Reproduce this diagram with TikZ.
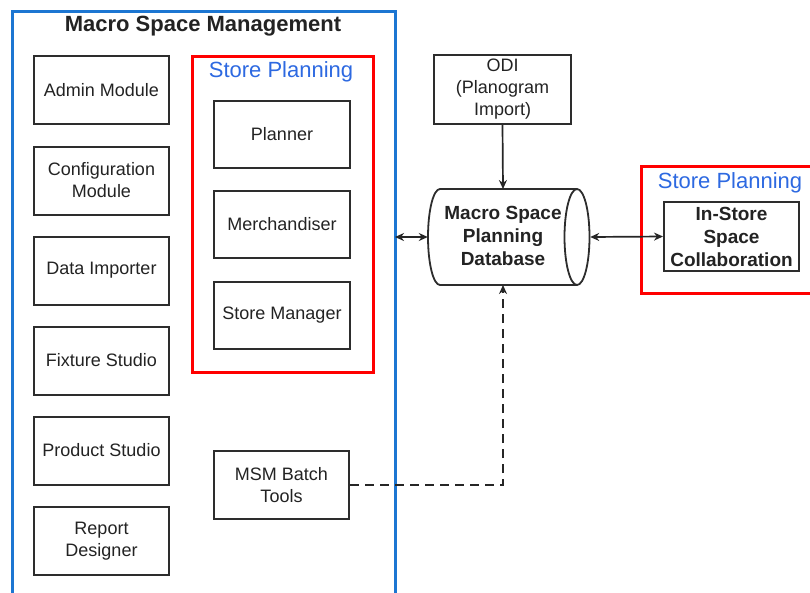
\documentclass[tikz,border=0pt]{standalone}
\usepackage{fontspec}
\setmainfont{Liberation Sans}
\usetikzlibrary{arrows.meta}
\definecolor{frameblue}{RGB}{28,118,210}
\definecolor{textblue}{RGB}{45,105,225}
\definecolor{boxgray}{RGB}{45,45,45}
\definecolor{txtgray}{RGB}{35,35,35}
\begin{document}
\begin{tikzpicture}[x=1pt,y=-1pt,
  >={Stealth[length=9pt,width=8pt]},
  modbox/.style={draw=boxgray,line width=2pt,fill=white,minimum width=135pt,minimum height=68pt,align=center,inner sep=1pt,text=txtgray,font=\fontsize{18}{22}\selectfont},
  boldtxt/.style={align=center,text=txtgray,font=\fontsize{19}{23}\selectfont\bfseries},
  grouplabel/.style={text=textblue,font=\fontsize{22}{26}\selectfont},
  conn/.style={draw=black!85,line width=1.7pt},
]
\useasboundingbox (0,0) rectangle (810,592);
\fill[white] (0,0) rectangle (810,592);
\begin{scope}
\clip (0,0) rectangle (810,592);
% blue frame
\draw[frameblue,line width=3pt] (12,610) -- (12,11) -- (395,11) -- (395,610);
% right red frame
\draw[red,line width=3pt] (641,166) rectangle (830,293);
\end{scope}
\node[font=\fontsize{22}{26}\selectfont\bfseries,text=txtgray] (title) at (203,26) {Macro Space Management};
% left column
\node[modbox] (admin) at (101.5,90) {Admin Module};
\node[modbox] (config) at (101.5,180.5) {Configuration\\Module};
\node[modbox] (dataimp) at (101.5,270.5) {Data Importer};
\node[modbox] (fixture) at (101.5,360.5) {Fixture Studio};
\node[modbox] (product) at (101.5,450.5) {Product Studio};
\node[modbox] (report) at (101.5,541) {Report\\Designer};
% store planning group
\draw[red,line width=3pt] (192,56) rectangle (373,372);
\node[grouplabel] (splabel) at (281,72) {Store Planning};
\node[modbox,minimum width=136pt,minimum height=67pt] (planner) at (282,134.5) {Planner};
\node[modbox,minimum width=136pt,minimum height=67pt] (merch) at (282,224.5) {Merchandiser};
\node[modbox,minimum width=136pt,minimum height=67pt] (storemgr) at (282,315) {Store Manager};
\node[modbox] (msm) at (281.5,485) {MSM Batch\\Tools};
% ODI
\node[modbox,minimum width=137pt,minimum height=69pt] (odi) at (502.5,89.5) {ODI\\(Planogram\\Import)};
% database cylinder
\node[minimum width=162pt,minimum height=96pt,inner sep=0pt] (db) at (509,237) {};
\draw[boxgray,line width=1.8pt,fill=white]
  (440,189) arc[start angle=90,end angle=270,x radius=12pt,y radius=48pt]
  -- (577,285) arc[start angle=270,end angle=450,x radius=12.5pt,y radius=48pt]
  -- cycle;
\draw[boxgray,line width=1.8pt] (577,189) arc[start angle=90,end angle=270,x radius=12.5pt,y radius=48pt];
\node[boldtxt] (dbtext) at (503,236) {Macro Space\\Planning\\Database};
% right store planning group
\node[grouplabel] (splabel2) at (730,183) {Store Planning};
\node[modbox,minimum width=135pt,minimum height=69pt,font=\fontsize{19}{23}\selectfont\bfseries] (instore) at (731.5,236.5) {In-Store\\Space\\Collaboration};
% connectors
\coordinate (mframe) at (395,237);
\coordinate (dbtop) at (503,189);
\coordinate (dbbot) at (503,285);
\draw[conn,<->] (mframe) -- (db.west);
\draw[conn,<->] (db.east) -- (instore.west);
\draw[conn,->] (odi.south) -- (dbtop);
\draw[conn,dash pattern=on 9pt off 6pt,->] (msm.east) -| (dbbot);
\end{tikzpicture}
\end{document}
